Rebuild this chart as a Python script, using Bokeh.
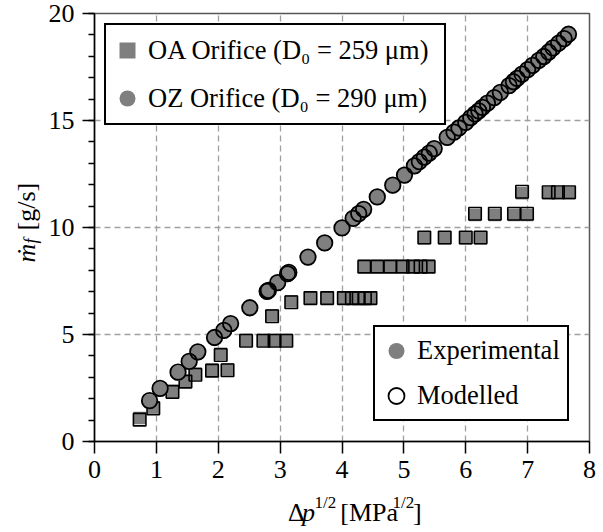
import math

from bokeh.core.properties import value
from bokeh.embed import file_html
from bokeh.layouts import column, row
from bokeh.models import FixedTicker, Legend, LegendItem, Range1d
from bokeh.plotting import figure
from bokeh.resources import INLINE

# OA orifice (D0 = 259 um): square root of pressure drop [MPa^1/2] and fuel mass flow [g/s]
oa_dp = [0.73, 0.95, 1.26, 1.47, 1.63, 1.90, 2.04, 2.15, 2.45, 2.73,
         2.87, 2.91, 3.10, 3.18, 3.49, 3.76, 4.03, 4.16, 4.27, 4.37,
         4.46, 4.36, 4.57, 4.78, 4.98, 5.15, 5.27, 5.40, 5.33, 5.66,
         6.00, 6.24, 6.15, 6.47, 6.78, 6.99, 6.91, 7.34, 7.49, 7.67]
oa_exp = [1.10, 1.60, 2.36, 2.83, 3.17, 3.35, 4.10, 3.37, 4.74, 4.74,
          5.90, 4.74, 4.74, 6.55, 6.72, 6.72, 6.72, 6.72, 6.72, 6.72,
          6.72, 8.20, 8.20, 8.20, 8.20, 8.20, 8.20, 8.20, 9.50, 9.50,
          9.50, 9.50, 10.58, 10.58, 10.58, 10.58, 11.60, 11.60, 11.60, 11.60]
oa_mod = [1.02, 1.55, 2.32, 2.80, 3.12, 3.31, 4.04, 3.33, 4.71, 4.71,
          5.85, 4.71, 4.71, 6.51, 6.70, 6.70, 6.70, 6.70, 6.70, 6.70,
          6.70, 8.17, 8.17, 8.17, 8.17, 8.17, 8.17, 8.17, 9.53, 9.53,
          9.53, 9.53, 10.64, 10.64, 10.64, 10.64, 11.67, 11.65, 11.65, 11.65]

# OZ orifice (D0 = 290 um)
oz_dp = [0.89, 1.06, 1.35, 1.53, 1.67, 1.94, 2.09, 2.20, 2.51, 2.79,
         2.81, 2.96, 3.12, 3.14, 3.45, 3.72, 4.00, 4.18, 4.27, 4.35,
         4.57, 4.82, 5.01, 5.17, 5.25, 5.33, 5.41, 5.49, 5.70, 5.81,
         5.89, 6.00, 6.08, 6.15, 6.21, 6.27, 6.35, 6.46, 6.56, 6.70,
         6.77, 6.83, 6.91, 7.00, 7.08, 7.18, 7.26, 7.34, 7.41, 7.50,
         7.59, 7.66]
oz_exp = [1.86, 2.44, 3.19, 3.71, 4.15, 4.82, 5.16, 5.47, 6.22, 6.98,
          7.02, 7.39, 7.80, 7.86, 8.59, 9.25, 9.95, 10.40, 10.62, 10.82,
          11.40, 11.95, 12.42, 12.85, 13.05, 13.26, 13.45, 13.66, 14.18, 14.43,
          14.62, 14.88, 15.10, 15.28, 15.42, 15.58, 15.78, 16.04, 16.28, 16.60,
          16.78, 16.94, 17.14, 17.35, 17.55, 17.78, 17.96, 18.17, 18.36, 18.58,
          18.80, 19.00]
oz_mod = [1.91, 2.48, 3.24, 3.74, 4.19, 4.86, 5.19, 5.51, 6.25, 7.02,
          7.06, 7.42, 7.84, 7.90, 8.62, 9.28, 9.98, 10.43, 10.65, 10.85,
          11.43, 11.98, 12.45, 12.88, 13.08, 13.29, 13.48, 13.69, 14.21, 14.46,
          14.65, 14.91, 15.13, 15.31, 15.45, 15.61, 15.81, 16.07, 16.31, 16.63,
          16.81, 16.97, 17.17, 17.38, 17.58, 17.81, 17.99, 18.20, 18.39, 18.61,
          18.83, 19.03]

x_ticks = [0, 1, 2, 3, 4, 5, 6, 7, 8]
y_ticks = [0, 5, 10, 15, 20]
y_minor = list(range(0, 21))

GRAY = "#7f7f7f"
SERIF = "Liberation Serif"

W, H = 603, 532          # whole page
YL_W = 45                # strip holding the y-axis title
XL_H = 40                # strip holding the x-axis title
FL, FT, FW, FH = 93, 13, 496, 428   # plot frame on the page
BASE_SHIFT = 10          # svg text sits this far below its alphabetic anchor

main_w, main_h = W - YL_W, H - XL_H

p = figure(width=main_w, height=main_h, x_range=Range1d(0, 8), y_range=Range1d(0, 20),
           output_backend="svg", toolbar_location=None,
           min_border_left=FL - YL_W, min_border_right=main_w - (FL - YL_W) - FW,
           min_border_top=FT, min_border_bottom=main_h - FT - FH)
p.background_fill_color = "white"
p.border_fill_color = "white"
p.outline_line_color = "#555555"
p.outline_line_width = 1.5

p.xaxis.ticker = FixedTicker(ticks=x_ticks, minor_ticks=[])
p.yaxis.ticker = FixedTicker(ticks=y_ticks, minor_ticks=y_minor)
for ax in (p.xaxis, p.yaxis):
    ax.axis_line_color = "black"
    ax.axis_line_width = 1.5
    ax.major_tick_line_color = "black"
    ax.major_tick_line_width = 1.5
    ax.minor_tick_line_color = "black"
    ax.minor_tick_line_width = 1.5
    ax.major_tick_in = 0
    ax.major_tick_out = 12
    ax.minor_tick_in = 0
    ax.minor_tick_out = 6
    ax.major_label_text_font = SERIF
    ax.major_label_text_font_size = "26px"
    ax.major_label_text_color = "black"
p.xaxis.major_label_standoff = 7
p.yaxis.major_label_standoff = 8

p.xgrid.ticker = FixedTicker(ticks=x_ticks)
p.ygrid.ticker = FixedTicker(ticks=y_ticks)
for g in (p.xgrid, p.ygrid):
    g.grid_line_color = "#a0a0a0"
    g.grid_line_dash = "6 4"
    g.grid_line_width = 1.3

r_oa_exp = p.scatter(oa_dp, oa_exp, marker="square", size=12.5,
                     fill_color=GRAY, line_color=None)
r_oa_mod = p.scatter(oa_dp, oa_mod, marker="square", size=12.5,
                     fill_color=None, line_color="black", line_width=1.6)
r_oz_exp = p.scatter(oz_dp, oz_exp, marker="circle", size=15.5,
                     fill_color=GRAY, line_color=None)
r_oz_mod = p.scatter(oz_dp, oz_mod, marker="circle", size=15.5,
                     fill_color=None, line_color="black", line_width=1.8)

legend_style = dict(padding=1, spacing=0, label_standoff=1, glyph_width=40,
                    label_text_font=SERIF, label_text_font_size="26.5px",
                    label_text_color="black", border_line_color="black",
                    border_line_alpha=1.0, border_line_width=2,
                    background_fill_color="white", background_fill_alpha=1.0)

leg_orifice = Legend(items=[LegendItem(label="OA Orifice (D\u2080 = 259 \u03bcm)", renderers=[r_oa_exp]),
                            LegendItem(label="OZ Orifice (D\u2080 = 290 \u03bcm)", renderers=[r_oz_exp])],
                     location="top_left", margin=10, glyph_height=48, label_height=48,
                     label_width=295, **legend_style)
leg_kind = Legend(items=[LegendItem(label="Experimental", renderers=[r_oz_exp]),
                         LegendItem(label="Modelled", renderers=[r_oz_mod])],
                  location="bottom_right", margin=20, glyph_height=45, label_height=45,
                  label_width=149, **legend_style)
p.add_layout(leg_orifice)
p.add_layout(leg_kind)


def strip(width, height, x_start, y_top):
    """A bare figure whose data units are page pixels (x right, y measured up from the page bottom)."""
    f = figure(width=width, height=height,
               x_range=Range1d(x_start, x_start + width),
               y_range=Range1d(H - y_top - height, H - y_top),
               x_axis_type=None, y_axis_type=None, min_border=0,
               output_backend="svg", toolbar_location=None)
    f.outline_line_color = None
    f.background_fill_color = "white"
    f.border_fill_color = "white"
    return f


def run(f, text, px, py, size, italic=False, angle=0.0):
    """Place one text run with its baseline start at page pixel (px, py)."""
    if angle:
        px -= BASE_SHIFT
    else:
        py -= BASE_SHIFT
    f.text(x=[px], y=[H - py], text=[text], angle=angle,
           text_align="left", text_baseline="alphabetic",
           text_font=value(SERIF), text_font_size=value(f"{size}px"),
           text_font_style=value("italic" if italic else "normal"),
           text_color="black")


# x axis title: Δp^{1/2} [MPa^{1/2}]
xl = strip(main_w, XL_H, YL_W, main_h)
bx, by = 263, 522
run(xl, "\u0394", bx, by, 26)
run(xl, "p", bx + 16, by, 26, italic=True)
run(xl, "1/2", bx + 30, by - 10, 17)
run(xl, "[MPa", bx + 59, by, 26)
run(xl, "1/2", bx + 118, by - 10, 17)
run(xl, "]", bx + 141, by, 26)

# y axis title: ṁ_f [g/s], reading upwards
yl = strip(YL_W, H, 0, 0)
ax_x, ay = 36, 262
run(yl, "\u1e41", ax_x, ay, 26, italic=True, angle=math.pi / 2)
run(yl, "f", ax_x + 4, ay - 19, 18, italic=True, angle=math.pi / 2)
run(yl, "[g/s]", ax_x, ay - 32, 26, angle=math.pi / 2)

layout = row(yl, column(p, xl))
open("out.html", "w").write(file_html(layout, INLINE))
